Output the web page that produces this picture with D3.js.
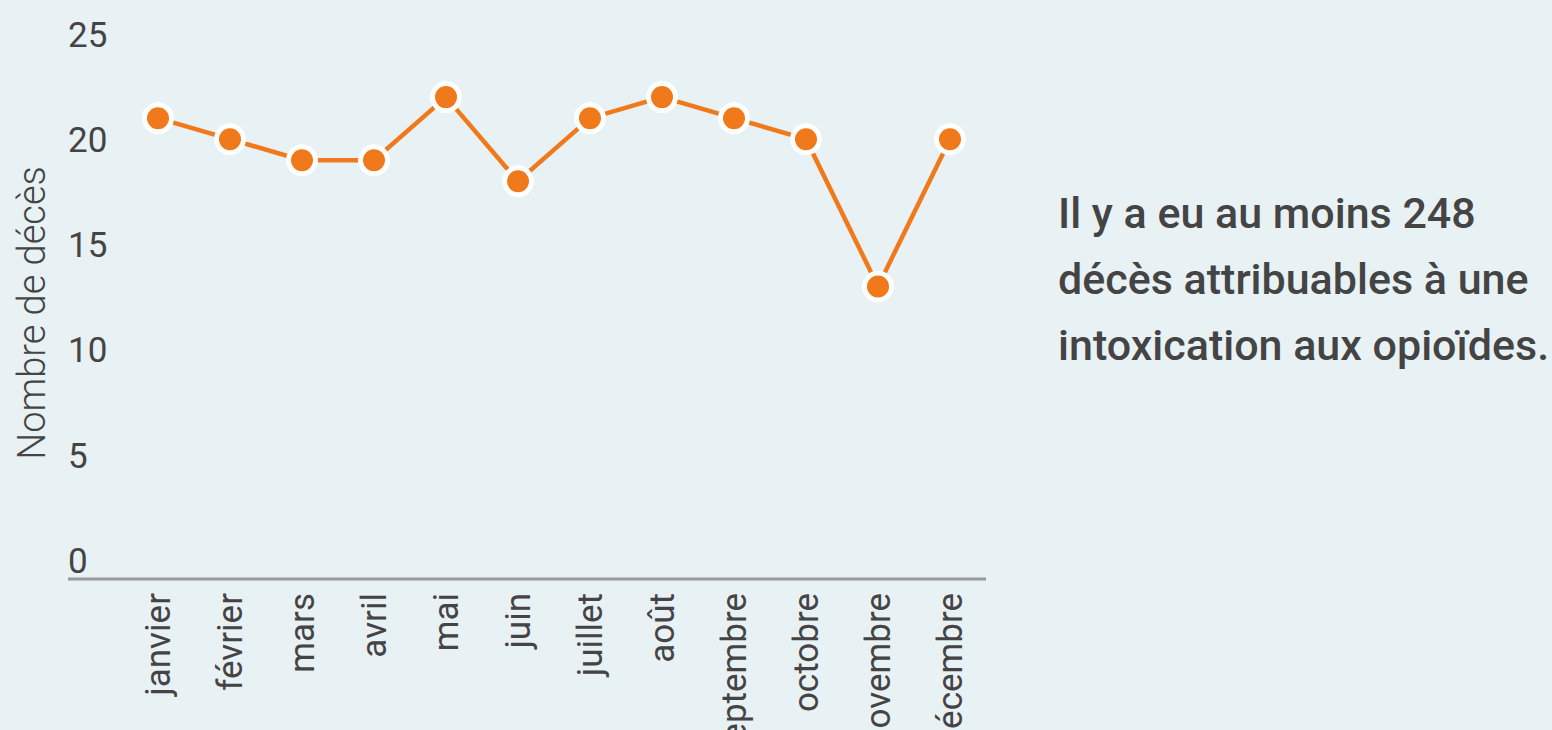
<!DOCTYPE html>
<html><head><meta charset="utf-8">
<script src="https://cdn.jsdelivr.net/npm/d3@7"></script>
<style>
html,body{margin:0;padding:0;background:#e8f1f4;overflow:hidden}
svg{display:block;font-family:Roboto,"Noto Sans",sans-serif}
</style></head><body>
<svg id="c" width="1552" height="730"></svg>
<script>
const months = ["janvier","février","mars","avril","mai","juin","juillet","août","septembre","octobre","novembre","décembre"];
const deaths = [21,20,19,19,22,18,21,22,21,20,13,20];
const yTicks = [0,5,10,15,20,25];
const yTitle = "Nombre de décès";
const noteLines = ["Il y a eu au moins 248","décès attribuables à une","intoxication aux opioïdes."];

const svg = d3.select("#c");
svg.append("rect").attr("width",1552).attr("height",730).attr("fill","#e8f1f4");

const x = d3.scaleBand().domain(months).range([122,986]).padding(0);
const y = d3.scaleLinear().domain([0,25]).range([560,34]);

// y tick labels
const yAxis = d3.axisLeft(y).tickValues(yTicks).tickSize(0).tickPadding(0);
const gy = svg.append("g").attr("transform","translate(68,0)").call(yAxis);
gy.select(".domain").remove();
gy.selectAll("text").attr("text-anchor","start").attr("x",0).attr("dy","0.35em")
  .attr("font-size",35).attr("font-family","Roboto").attr("font-weight",400).attr("fill","#444");

// x axis
const xAxis = d3.axisBottom(x).tickSize(0).tickPadding(0);
const gx = svg.append("g").attr("transform","translate(0,579)").call(xAxis);
gx.select(".domain").remove();
gx.append("line").attr("x1",68).attr("x2",986).attr("y1",0).attr("y2",0)
  .attr("stroke","#999").attr("stroke-width",3);
gx.selectAll(".tick text")
  .attr("transform","rotate(-90)")
  .attr("text-anchor","end")
  .attr("x",-14).attr("y",0).attr("dy","0.35em")
  .attr("font-size",35).attr("font-family","Roboto").attr("font-weight",400).attr("fill","#444");

// y title
svg.append("text").attr("transform","translate(45,313) rotate(-90)")
  .attr("text-anchor","middle").attr("font-size",38).attr("font-weight",300)
  .attr("fill","#444").text(yTitle);

// line
const line = d3.line().x((d,i)=>x(months[i])+x.bandwidth()/2).y(d=>y(d));
svg.append("path").datum(deaths).attr("d",line).attr("fill","none")
  .attr("stroke","#f07a1b").attr("stroke-width",4.5);
svg.selectAll("circle.pt").data(deaths).join("circle").attr("class","pt")
  .attr("cx",(d,i)=>x(months[i])+x.bandwidth()/2).attr("cy",d=>y(d))
  .attr("r",13.5).attr("fill","#f07a1b").attr("stroke","#fff").attr("stroke-width",5);

// note
const note = svg.append("text").attr("x",1058).attr("font-size",43).attr("font-weight",500).attr("fill","#444");
noteLines.forEach((t,i)=>{
  note.append("tspan").attr("x",1058).attr("y",228+i*66).text(t);
});
</script>
</body></html>
